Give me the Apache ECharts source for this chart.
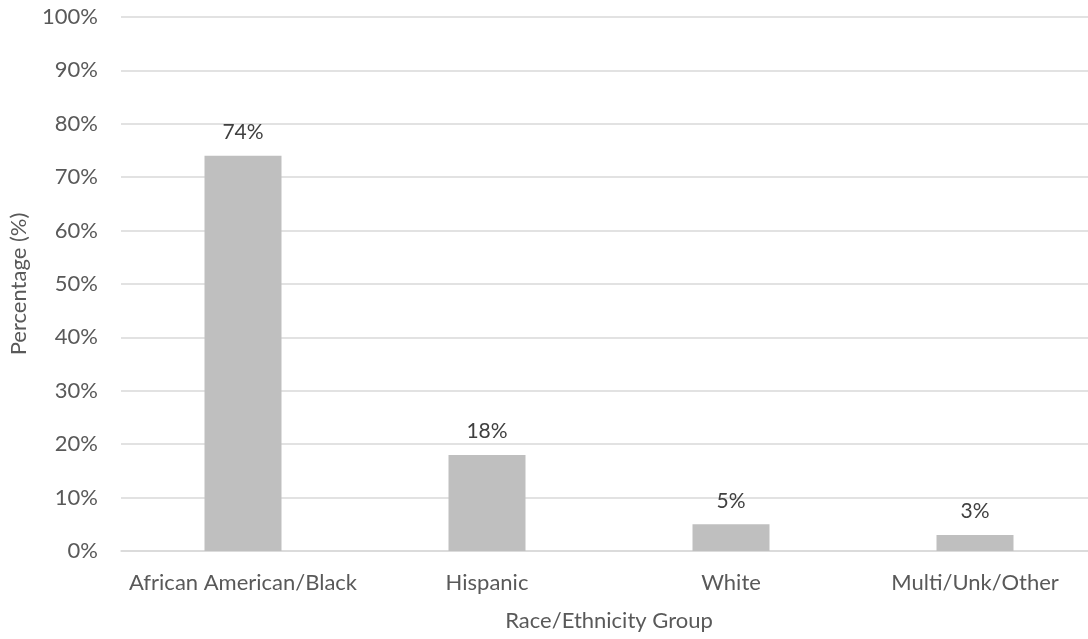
<!DOCTYPE html>
<html>
<head>
<meta charset="utf-8">
<script src="https://cdn.jsdelivr.net/npm/echarts@6/dist/echarts.min.js"></script>
<style>
  html, body { margin: 0; padding: 0; background: #fff; }
  #chart { width: 1088px; height: 639px; }
</style>
</head>
<body>
<div id="chart"></div>
<script>
const categories = ['African American/Black', 'Hispanic', 'White', 'Multi/Unk/Other']
const values = [74, 18, 5, 3]
const yTicks = { min: 0, max: 100, interval: 10 }

const FONT = 'Lato'
const TEXT = '#595959'

const myChart = echarts.init(document.getElementById('chart'))
myChart.setOption({
  animation: false,
  grid: {
    left: 121,
    top: 17,
    width: 976,
    height: 534,
    containLabel: false,
    outerBoundsMode: 'none'
  },
  xAxis: {
    type: 'category',
    data: categories,
    name: 'Race/Ethnicity Group',
    nameLocation: 'middle',
    nameGap: 59,
    nameTextStyle: { color: TEXT, fontFamily: FONT, fontSize: 22 },
    axisTick: { show: false },
    axisLine: { show: true, lineStyle: { color: '#d9d9d9', width: 1.5 } },
    axisLabel: { color: TEXT, fontFamily: FONT, fontSize: 22, margin: 21, interval: 0 }
  },
  yAxis: {
    type: 'value',
    min: yTicks.min,
    max: yTicks.max,
    interval: yTicks.interval,
    name: 'Percentage (%)',
    nameLocation: 'middle',
    nameGap: 91,
    nameTextStyle: { color: TEXT, fontFamily: FONT, fontSize: 22 },
    axisLine: { show: false },
    axisTick: { show: false },
    splitLine: { show: true, lineStyle: { color: '#d9d9d9', width: 1.5 } },
    axisLabel: {
      color: TEXT,
      fontFamily: FONT,
      fontSize: 22,
      margin: 23,
      formatter: '{value}%'
    }
  },
  series: [
    {
      type: 'bar',
      data: values,
      barWidth: 77,
      itemStyle: { color: '#bfbfbf' },
      label: {
        show: true,
        position: 'top',
        distance: 13,
        color: '#404040',
        fontFamily: FONT,
        fontSize: 21,
        formatter: '{c}%'
      }
    }
  ]
})
</script>
</body>
</html>
